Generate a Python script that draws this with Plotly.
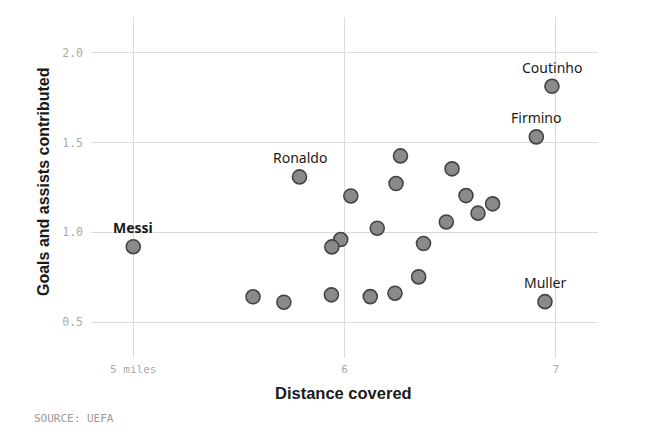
import plotly.graph_objects as go

# Distance covered (miles) and goals+assists contributed per player
distance = [5.00, 5.787, 6.982, 6.908, 6.949,
            6.265, 6.244, 6.030, 6.155, 5.982, 5.940, 6.374, 6.351,
            5.567, 5.713, 5.938, 6.122, 6.239,
            6.509, 6.575, 6.701, 6.632, 6.482]
contrib = [0.92, 1.309, 1.814, 1.532, 0.614,
           1.426, 1.272, 1.203, 1.023, 0.960, 0.919, 0.938, 0.752,
           0.641, 0.611, 0.652, 0.642, 0.661,
           1.354, 1.205, 1.159, 1.107, 1.058]
names = ["Messi", "Ronaldo", "Coutinho", "Firmino", "Muller"] + [""] * 18
bold_names = ["Messi"]

x_ticks = [5, 6, 7]
x_ticktext = ["5 miles", "6", "7"]
y_ticks = [0.5, 1.0, 1.5, 2.0]
y_ticktext = ["0.5", "1.0", "1.5", "2.0"]

fig = go.Figure()
fig.add_trace(go.Scatter(
    x=distance, y=contrib, mode="markers",
    marker=dict(size=14, color="#8a8a8a", line=dict(color="#444444", width=1.6)),
    hoverinfo="skip", showlegend=False,
))

annotations = []
for xv, yv, nm in zip(distance, contrib, names):
    if not nm:
        continue
    annotations.append(dict(
        x=xv, y=yv, xref="x", yref="y", text=nm, showarrow=False,
        yshift=19, xanchor="center", yanchor="middle",
        font=dict(family="Noto Sans", size=14, color="#1a1a1a",
                  weight="bold" if nm in bold_names else "normal"),
    ))

annotations += [
    dict(text="Distance covered", xref="paper", yref="paper", x=0.499, y=-0.1026,
         xanchor="center", yanchor="middle", showarrow=False,
         font=dict(family="Liberation Sans", size=16.5, color="#1a1a1a", weight="bold")),
    dict(text="Goals and assists contributed", xref="paper", yref="paper", x=-0.0947, y=0.519,
         xanchor="center", yanchor="middle", showarrow=False, textangle=-90,
         font=dict(family="Liberation Sans", size=16, color="#1a1a1a", weight="bold")),
    dict(text="SOURCE: UEFA", xref="paper", yref="paper", x=-0.1164, y=-0.176,
         xanchor="left", yanchor="middle", showarrow=False,
         font=dict(family="DejaVu Sans Mono", size=11, color="#999999")),
]

fig.update_layout(
    width=650, height=439,
    margin=dict(l=91, r=52, t=17, b=81),
    paper_bgcolor="white", plot_bgcolor="white",
    annotations=annotations,
    xaxis=dict(range=[4.8, 7.2], tickvals=x_ticks, ticktext=x_ticktext,
               showgrid=True, gridcolor="#dcdcdc", gridwidth=1, zeroline=False,
               showline=False, ticks="", fixedrange=True, ticklabelstandoff=3,
               tickfont=dict(family="DejaVu Sans Mono", size=11, color="#aaaaaa")),
    yaxis=dict(range=[0.3, 2.2], tickvals=y_ticks, ticktext=y_ticktext,
               showgrid=True, gridcolor="#dcdcdc", gridwidth=1, zeroline=False,
               showline=False, ticks="", fixedrange=True, ticklabelstandoff=7,
               tickfont=dict(family="DejaVu Sans Mono", size=11.5, color="#aaaaaa")),
)

fig.write_html("out.html")
